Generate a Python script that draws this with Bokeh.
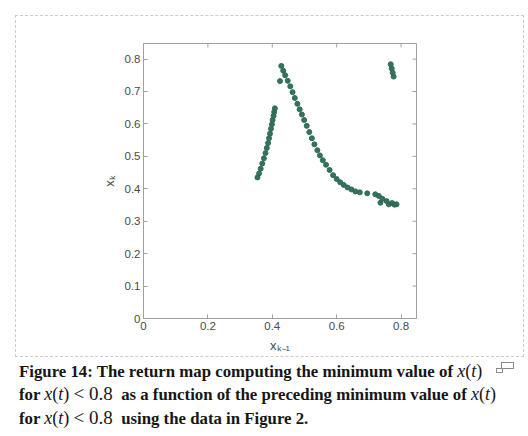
import math
from bokeh.plotting import figure
from bokeh.models import FixedTicker, Div, Range1d
from bokeh.layouts import column
from bokeh.embed import file_html
from bokeh.resources import INLINE

# previous minimum x_{k-1} and next minimum x_k
x_prev = [0.354, 0.359, 0.364, 0.369, 0.374, 0.379, 0.383, 0.387, 0.390,
          0.393, 0.396, 0.399, 0.401, 0.404, 0.406, 0.408,
          0.424,
          0.428, 0.434, 0.440, 0.448, 0.456, 0.463, 0.470, 0.478, 0.485,
          0.492, 0.499, 0.507, 0.515, 0.523, 0.531, 0.540, 0.548, 0.557,
          0.567, 0.578, 0.589, 0.600, 0.611, 0.622, 0.634, 0.646, 0.658,
          0.672, 0.695, 0.720, 0.731, 0.742, 0.736, 0.755, 0.762, 0.772,
          0.780, 0.786,
          0.768, 0.771, 0.774, 0.777]
x_next = [0.435, 0.447, 0.462, 0.478, 0.494, 0.510, 0.526, 0.541, 0.556,
          0.570, 0.585, 0.599, 0.612, 0.625, 0.637, 0.648,
          0.732,
          0.779, 0.764, 0.750, 0.733, 0.716, 0.698, 0.680, 0.662, 0.645,
          0.629, 0.612, 0.594, 0.575, 0.556, 0.537, 0.519, 0.503, 0.488,
          0.474, 0.458, 0.442, 0.430, 0.420, 0.412, 0.404, 0.398, 0.392,
          0.389, 0.386, 0.383, 0.378, 0.369, 0.357, 0.362, 0.352, 0.356,
          0.351, 0.352,
          0.784, 0.771, 0.758, 0.746]

x_ticks = [0, 0.2, 0.4, 0.6, 0.8]
x_tick_labels = ["0", "0.2", "0.4", "0.6", "0.8"]
y_ticks = [0, 0.1, 0.2, 0.3, 0.4, 0.5, 0.6, 0.7, 0.8]
y_tick_labels = ["0", "0.1", "0.2", "0.3", "0.4", "0.5", "0.6", "0.7", "0.8"]

x_max = 0.848
y_max = 0.848

axis_gray = "#a0a0a0"
label_col = "#4a4a4a"

p = figure(frame_width=271, frame_height=273,
           min_border_left=127, min_border_right=109,
           min_border_top=27, min_border_bottom=40,
           x_range=Range1d(0, x_max), y_range=Range1d(0, y_max),
           output_backend="svg", toolbar_location=None,
           x_axis_label="xₖ₋₁", y_axis_label="xₖ")
p.margin = (15, 0, 0, 15)
p.styles = {"border": "1px dashed #cccccc"}
p.grid.visible = False
p.outline_line_color = axis_gray
p.background_fill_color = "white"
p.border_fill_color = "white"

p.scatter(x_prev, x_next, size=5, color="#2b6a56", alpha=0.95)

# inward ticks on the top and right edges of the box
p.ray(x=x_ticks, y=[y_max] * len(x_ticks), length=4, length_units="screen",
      angle=-math.pi / 2, line_color=axis_gray, line_width=1)
p.ray(x=[x_max] * len(y_ticks), y=y_ticks, length=4, length_units="screen",
      angle=math.pi, line_color=axis_gray, line_width=1)

def style_axis(ax, ticks, labels):
    ax.ticker = FixedTicker(ticks=ticks)
    ax.major_label_overrides = {t: l for t, l in zip(ticks, labels)}
    ax.axis_line_color = axis_gray
    ax.major_tick_line_color = axis_gray
    ax.major_tick_in = 4
    ax.major_tick_out = 0
    ax.minor_tick_line_color = None
    ax.major_label_text_font = "Liberation Sans"
    ax.major_label_text_font_size = "11.5px"
    ax.major_label_text_color = label_col
    ax.major_label_standoff = 3
    ax.axis_label_text_font = "Liberation Sans"
    ax.axis_label_text_font_size = "13px"
    ax.axis_label_text_font_style = "normal"
    ax.axis_label_text_color = label_col

style_axis(p.xaxis[0], x_ticks, x_tick_labels)
style_axis(p.yaxis[0], y_ticks, y_tick_labels)
p.xaxis[0].axis_label_standoff = 5
p.yaxis[0].axis_label_standoff = 5

m = "font-family:'Liberation Serif';font-weight:normal;"
xt = (f"<span style=\"{m}font-style:italic;font-size:18px\">x</span>"
      f"<span style=\"{m}font-size:18px\">(</span>"
      f"<span style=\"{m}font-style:italic;font-size:18px\">t</span>"
      f"<span style=\"{m}font-size:18px\">)</span>")
lt = f"<span style=\"{m}font-size:19px\">&lt; 0.8</span>"
icon = ("<span style=\"position:absolute;left:482px;top:2px;width:13px;height:7px;"
        "border:1.5px solid #8a8a8a;background:white\"></span>"
        "<span style=\"position:absolute;left:477px;top:8px;width:7px;height:5px;"
        "border:1.5px solid #8a8a8a;background:white\"></span>")
caption_html = (
    "<div style=\"position:relative;font-family:'Liberation Serif';"
    "font-weight:bold;font-size:16.8px;line-height:22.3px;color:#161616;white-space:nowrap\">"
    f"Figure 14: The return map computing the minimum value of {xt}<br>"
    f"for {xt} {lt}&nbsp; as a function of the preceding minimum value of {xt}<br>"
    f"for {xt} {lt}&nbsp; using the data in Figure 2."
    f"{icon}</div>"
)
cap = Div(text=caption_html, width=500, height=68, margin=(3, 0, 0, 19))

layout = column(p, cap)
open("out.html", "w").write(file_html(layout, INLINE))
